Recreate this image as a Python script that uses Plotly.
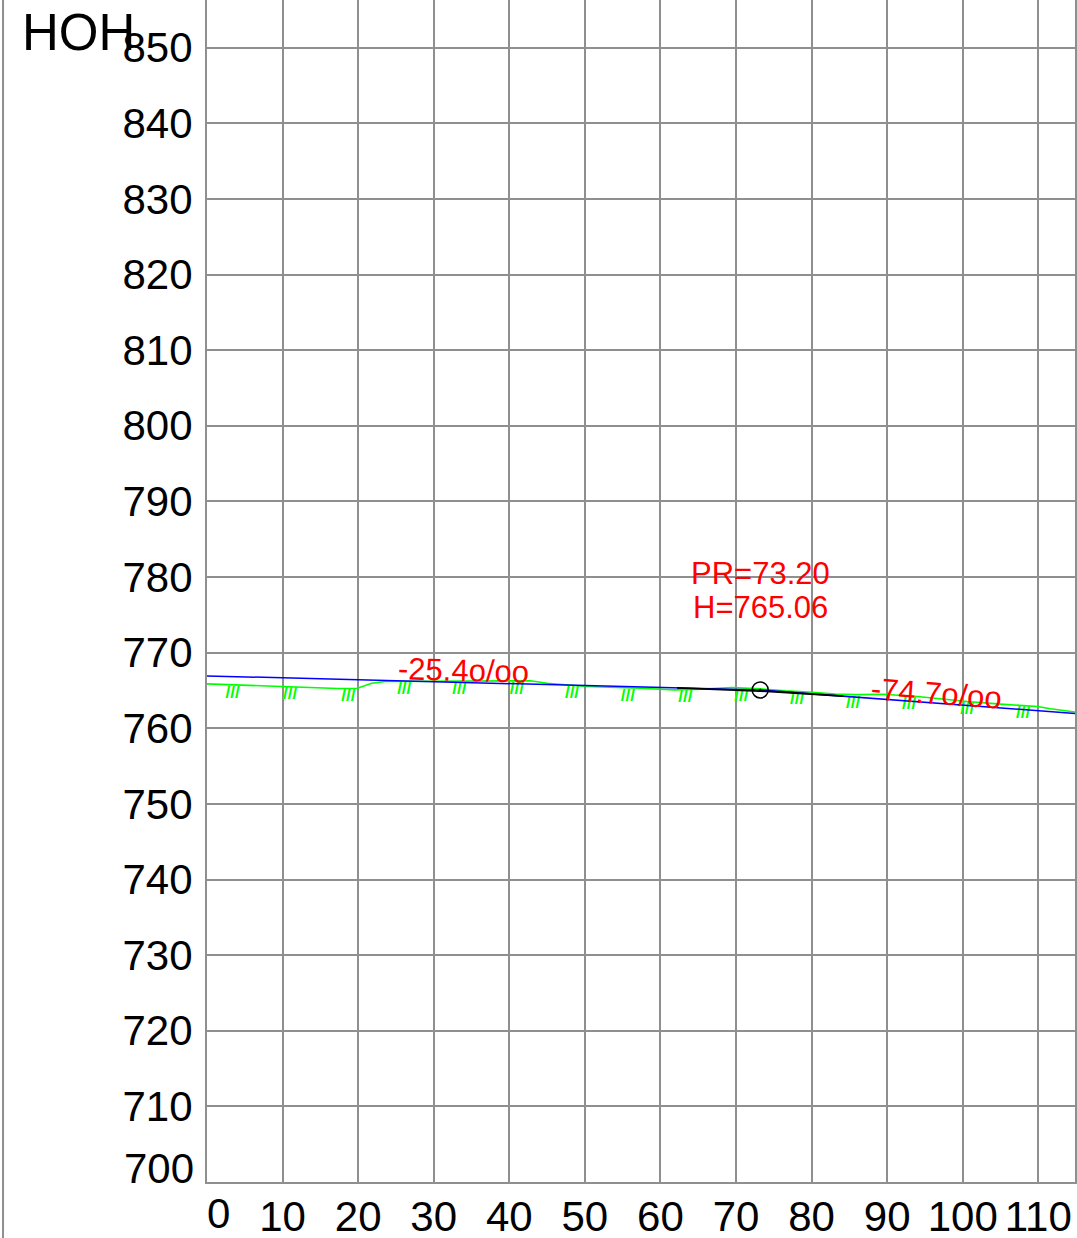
import plotly.graph_objects as go

# ---- data ----
ground_x = [0, 4.1, 9.9, 13.0, 17.3, 19.9, 21.8, 23.6, 26.2, 33.0, 38.0, 42.8, 45.0, 50.3,
            57.3, 61.9, 65.5, 69.5, 73.2, 76.5, 80.1, 83.1, 85.8, 89.5, 94.0, 100.6, 105.0,
            109.9, 111.6, 114.9]
ground_y = [765.87, 765.74, 765.52, 765.44, 765.26, 765.30, 765.96, 766.18, 766.20, 766.25,
            766.25, 766.28, 765.96, 765.52, 765.30, 765.08, 765.17, 765.38, 765.21, 764.95,
            764.77, 764.51, 764.45, 764.50, 764.19, 763.53, 763.19, 762.87, 762.57, 762.15]

hatch_x = [3.4, 11.0, 18.7, 26.1, 33.4, 41.0, 48.3, 55.7, 63.3, 70.7, 78.1, 85.5, 92.9, 100.6, 108.0]
hatch_y = [765.75, 765.50, 765.28, 766.20, 766.25, 766.25, 765.70, 765.35, 765.10, 765.33,
           764.87, 764.42, 764.27, 763.53, 763.00]

grade_x = [0, 73.2, 114.9]
grade_y = [766.92, 765.06, 761.95]

curve_x = [62.2, 65.2, 68.2, 71.2, 73.2, 76.2, 79.2, 82.2, 84.2]
curve_y = [765.34, 765.25, 765.15, 765.02, 764.92, 764.76, 764.58, 764.38, 764.24]

pvi_x = [73.2]
pvi_y = [765.06]
pvi_labels = ["PR=73.20", "H=765.06"]

slope_labels = ["-25.4o/oo", "-74.7o/oo"]
slope_x = [34.0, 96.5]
slope_y = [767.64, 764.64]
slope_angle = [1.45, 4.27]

x_ticks = list(range(10, 111, 10))
y_ticks = list(range(710, 851, 10))

FONT = "Liberation Sans, Arial, sans-serif"
GRID = "#8f8f8f"

fig = go.Figure()
fig.add_trace(go.Scatter(x=ground_x, y=ground_y, mode="lines",
                         line=dict(color="#00ff00", width=1.6), hoverinfo="skip"))
fig.add_trace(go.Scatter(x=hatch_x, y=hatch_y, mode="text", text=["///"] * len(hatch_x),
                         textposition="bottom center",
                         textfont=dict(color="#00ff00", size=17, family=FONT, weight="bold"),
                         hoverinfo="skip"))
fig.add_trace(go.Scatter(x=grade_x, y=grade_y, mode="lines",
                         line=dict(color="#0000ff", width=1.5), hoverinfo="skip"))
fig.add_trace(go.Scatter(x=curve_x, y=curve_y, mode="lines",
                         line=dict(color="#000000", width=1.8), hoverinfo="skip"))
fig.add_trace(go.Scatter(x=pvi_x, y=pvi_y, mode="markers",
                         marker=dict(symbol="circle-open-dot", size=16, color="black",
                                     line=dict(color="black", width=1.5)), hoverinfo="skip"))

ann = []
ann.append(dict(x=pvi_x[0], y=780.47, xref="x", yref="y", text=pvi_labels[0], showarrow=False,
                xanchor="center", yanchor="middle", font=dict(color="#ff0000", size=31, family=FONT)))
ann.append(dict(x=pvi_x[0], y=775.97, xref="x", yref="y", text=pvi_labels[1], showarrow=False,
                xanchor="center", yanchor="middle", font=dict(color="#ff0000", size=31, family=FONT)))
for t, sx, sy, a in zip(slope_labels, slope_x, slope_y, slope_angle):
    ann.append(dict(x=sx, y=sy, xref="x", yref="y", text=t, showarrow=False, textangle=a,
                    xanchor="center", yanchor="middle",
                    font=dict(color="#ff0000", size=31, family=FONT)))
# edge tick labels (kept inside like the original)
ann.append(dict(x=0, y=700, xref="paper", yref="y", text="700", showarrow=False,
                xanchor="right", yanchor="middle", xshift=-11, yshift=14,
                font=dict(color="black", size=42, family=FONT)))
ann.append(dict(x=0, y=0, xref="x", yref="paper", text="0", showarrow=False,
                xanchor="center", yanchor="top", xshift=11, yshift=-6,
                font=dict(color="black", size=42, family=FONT)))
ann.append(dict(x=0, y=1, xref="paper", yref="paper", text="HOH", showarrow=False,
                xanchor="left", yanchor="middle", xshift=-187, yshift=-32,
                font=dict(color="black", size=51, family=FONT)))

fig.update_layout(
    width=1077, height=1238,
    margin=dict(l=207, r=2, t=0, b=56, autoexpand=False),
    paper_bgcolor="white", plot_bgcolor="white",
    showlegend=False,
    annotations=ann,
    shapes=[dict(type="line", xref="paper", yref="paper", x0=-0.235, x1=-0.235,
                 y0=-0.05, y1=1, line=dict(color=GRID, width=2))],
    xaxis=dict(range=[0, 114.86], tickvals=x_ticks, ticktext=[str(v) for v in x_ticks],
               showgrid=True, gridcolor=GRID, gridwidth=1.6, zeroline=False,
               showline=True, linecolor=GRID, linewidth=2, mirror=False,
               ticks="", ticklabelstandoff=-3, automargin=False,
               tickfont=dict(size=42, color="black", family=FONT)),
    yaxis=dict(range=[700, 856.3], tickvals=y_ticks, ticktext=[str(v) for v in y_ticks],
               showgrid=True, gridcolor=GRID, gridwidth=1.6, zeroline=False,
               showline=True, linecolor=GRID, linewidth=2, mirror=True,
               ticks="", ticklabelstandoff=4, automargin=False,
               tickfont=dict(size=42, color="black", family=FONT)),
)

fig.write_html("out.html", config={"displayModeBar": False},
               post_script="document.body.style.margin='0';document.body.style.overflow='hidden';")
